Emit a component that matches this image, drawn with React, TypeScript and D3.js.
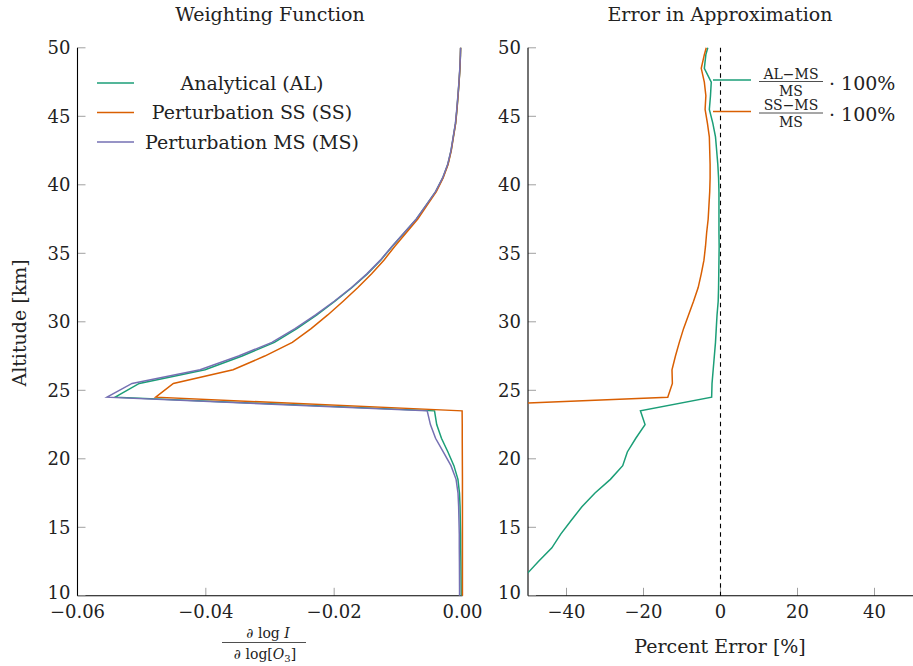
import React from "react";
import * as d3 from "d3";

// altitude grid [km]
const ALTITUDE = [
  50, 49.5, 48.5, 47.5, 46.5, 45.5, 44.5, 43.5, 42.5, 41.5, 40.5, 39.5, 38.5, 37.5,
  36.5, 35.5, 34.5, 33.5, 32.5, 31.5, 30.5, 29.5, 28.5, 27.5, 26.5, 25.5, 24.5, 23.5,
  22.5, 21.5, 20.5, 19.5, 18.5, 17.5, 16.5, 15.5, 14.5, 13.5, 12.5, 11.5, 10.5, 10,
];

// weighting functions d log I / d log[O3]
const WF_AL = [
  -0.00029, -0.00032, -0.0004, -0.00054, -0.0007, -0.00087, -0.00108, -0.00143, -0.00178,
  -0.00228, -0.00308, -0.00418, -0.00568, -0.00717, -0.00906, -0.01096, -0.01275, -0.01483,
  -0.01721, -0.01988, -0.02269, -0.02581, -0.02931, -0.03434, -0.04012, -0.05037, -0.05413,
  -0.00436, -0.00402, -0.00328, -0.00227, -0.00134, -0.00071, -0.00047, -0.00038, -0.00034,
  -0.00029, -0.00028, -0.00025, -0.00023, -0.00021, -0.0002,
];
const WF_SS = [
  -0.00029, -0.00032, -0.0004, -0.00053, -0.00069, -0.00086, -0.00106, -0.00141, -0.00175,
  -0.00224, -0.00302, -0.00408, -0.00553, -0.00697, -0.00877, -0.01057, -0.01225, -0.01416,
  -0.0163, -0.0186, -0.021, -0.02359, -0.02652, -0.03082, -0.03575, -0.04506, -0.04781,
  -0.00006, -0.00004, -0.00004, -0.00003, -0.00002, -0.00001, -0.00001, -0.00001, -0.00001,
  -0.00001, -0.00001, -0.00001, -0.00001, -0.00001, -0.00001,
];
const WF_MS = [
  -0.0003, -0.00033, -0.00042, -0.00055, -0.00072, -0.0009, -0.0011, -0.00145, -0.0018,
  -0.0023, -0.0031, -0.0042, -0.0057, -0.0072, -0.0091, -0.011, -0.0128, -0.0149,
  -0.0173, -0.02, -0.0229, -0.0261, -0.0297, -0.0349, -0.0409, -0.0515, -0.0554,
  -0.0055, -0.005, -0.0042, -0.003, -0.0018, -0.001, -0.0007, -0.0006, -0.00055,
  -0.0005, -0.0005, -0.00048, -0.00047, -0.00046, -0.00046,
];

// percent error relative to MS
const ERR_AL_MS = [
  -3.3, -3.8, -4.2, -2.4, -2.6, -2.9, -2.0, -1.3, -1.0, -0.7, -0.5, -0.4, -0.4, -0.4,
  -0.4, -0.35, -0.4, -0.45, -0.5, -0.6, -0.9, -1.1, -1.3, -1.6, -1.9, -2.2, -2.3, -20.8,
  -19.6, -22.0, -24.2, -25.4, -28.6, -32.6, -36.0, -38.8, -41.5, -43.8, -47.3, -50.6, -54.0, -55.6,
];
const ERR_SS_MS = [
  -3.7, -4.2, -5.0, -4.2, -3.8, -4.0, -3.4, -2.9, -2.8, -2.7, -2.7, -2.8, -3.0, -3.2,
  -3.6, -3.9, -4.3, -5.0, -5.8, -7.0, -8.3, -9.6, -10.7, -11.7, -12.6, -12.5, -13.7, -99.0,
  -99.2, -99.1, -99.3, -99.4, -99.0, -98.6, -98.3, -98.2, -98.0, -98.0, -97.9, -97.9, -97.8, -97.8,
];

const Y_TICKS = [10, 15, 20, 25, 30, 35, 40, 45, 50];
const X_TICKS_WF = [-0.06, -0.04, -0.02, 0.0];
const X_TICKS_ERR = [-40, -20, 0, 20, 40];

const GREEN = "#1b9e77";
const ORANGE = "#d95f02";
const PURPLE = "#7570b3";
const FONT = "'DejaVu Serif', serif";
const TICK_GRAY = "#a0a0a0";
const FS = 19; // titles, legend, axis labels
const FT = 18; // tick labels

const W = 913;
const H = 666;

export default function App() {
  const top = 47.8;
  const bottom = 595.8;
  const y = d3.scaleLinear().domain([10, 50]).range([bottom, top]);
  const xWF = d3.scaleLinear().domain([-0.06, 0]).range([77.5, 462.5]);
  const xErr = d3.scaleLinear().domain([-50, 50]).range([528, 913]);

  const idx = d3.range(ALTITUDE.length);
  const lineWF = (vals: number[]) =>
    d3.line<number>().x((i) => xWF(vals[i])).y((i) => y(ALTITUDE[i]))(idx) || "";
  const lineErr = (vals: number[]) =>
    d3.line<number>().x((i) => xErr(vals[i])).y((i) => y(ALTITUDE[i]))(idx) || "";

  const fmtWF = (v: number) => (v < 0 ? "\u2212" : "") + Math.abs(v).toFixed(2);
  const fmtErr = (v: number) => (v < 0 ? "\u2212" : "") + Math.abs(v);

  const legend = [
    { label: "Analytical (AL)", color: GREEN },
    { label: "Perturbation SS (SS)", color: ORANGE },
    { label: "Perturbation MS (MS)", color: PURPLE },
  ];

  const yAxis = (x0: number) => (
    <g>
      {Y_TICKS.map((t) => (
        <g key={t}>
          <line x1={x0} x2={x0 + 8} y1={y(t)} y2={y(t)} stroke={TICK_GRAY} strokeWidth={1} />
          <text x={x0 - 7} y={y(t) + (t === 10 ? 3 : 6.5)} textAnchor="end" fontSize={FT}>
            {t}
          </text>
        </g>
      ))}
      <line x1={x0} x2={x0} y1={top} y2={bottom} stroke="#000" strokeWidth={1.1} />
    </g>
  );

  return (
    <svg
      width={W}
      height={H}
      style={{ position: "absolute", left: 0, top: 0, background: "#fff" }}
      fontFamily={FONT}
      fill="#222"
    >
      <defs>
        <clipPath id="clipErr">
          <rect x={xErr(-50)} y={top - 2} width={xErr(50) - xErr(-50)} height={bottom - top + 4} />
        </clipPath>
      </defs>

      {/* ---- left: weighting function ---- */}
      <text x={270} y={21} textAnchor="middle" fontSize={FS}>
        Weighting Function
      </text>
      {X_TICKS_WF.map((t) => (
        <g key={t}>
          <line x1={xWF(t)} x2={xWF(t)} y1={bottom} y2={bottom - 8} stroke={TICK_GRAY} />
          <text x={xWF(t)} y={bottom + 22} textAnchor="middle" fontSize={FT}>
            {fmtWF(t)}
          </text>
        </g>
      ))}
      <line x1={xWF(-0.06)} x2={xWF(0)} y1={bottom} y2={bottom} stroke="#000" strokeWidth={1.1} />
      {yAxis(xWF(-0.06))}

      <path d={lineWF(WF_AL)} fill="none" stroke={GREEN} strokeWidth={1.5} />
      <path d={lineWF(WF_SS)} fill="none" stroke={ORANGE} strokeWidth={1.5} />
      <path d={lineWF(WF_MS)} fill="none" stroke={PURPLE} strokeWidth={1.5} />

      {legend.map((d, i) => (
        <g key={d.label} transform={`translate(0,${83 + i * 29.5})`}>
          <line x1={97} x2={134} y1={0} y2={0} stroke={d.color} strokeWidth={1.5} />
          <text x={252} y={6.5} textAnchor="middle" fontSize={FS}>
            {d.label}
          </text>
        </g>
      ))}

      {/* y label */}
      <text transform="translate(26,323) rotate(-90)" textAnchor="middle" fontSize={FS}>
        Altitude [km]
      </text>

      {/* x label: fraction */}
      <g fontSize={14}>
        <text x={268} y={638} textAnchor="middle">
          {"\u2202 log "}
          <tspan fontStyle="italic">I</tspan>
        </text>
        <line x1={222} x2={306} y1={642.5} y2={642.5} stroke="#222" strokeWidth={0.8} />
        <text x={265} y={659} textAnchor="middle">
          {"\u2202 log["}
          <tspan fontStyle="italic">O</tspan>
          <tspan fontSize={10} dy={3}>3</tspan>
          <tspan dy={-3}>]</tspan>
        </text>
      </g>

      {/* ---- right: error ---- */}
      <text x={720} y={21} textAnchor="middle" fontSize={FS}>
        Error in Approximation
      </text>
      {X_TICKS_ERR.map((t) => (
        <g key={t}>
          <line x1={xErr(t)} x2={xErr(t)} y1={bottom} y2={bottom - 8} stroke={TICK_GRAY} />
          <text x={xErr(t)} y={bottom + 22} textAnchor="middle" fontSize={FT}>
            {fmtErr(t)}
          </text>
        </g>
      ))}
      <line x1={xErr(-50)} x2={xErr(50)} y1={bottom} y2={bottom} stroke="#000" strokeWidth={1.1} />
      {yAxis(xErr(-50))}

      <line
        x1={xErr(0)}
        x2={xErr(0)}
        y1={top}
        y2={bottom}
        stroke="#000"
        strokeWidth={1.1}
        strokeDasharray="4.5,4"
      />
      <g clipPath="url(#clipErr)">
        <path d={lineErr(ERR_AL_MS)} fill="none" stroke={GREEN} strokeWidth={1.5} />
        <path d={lineErr(ERR_SS_MS)} fill="none" stroke={ORANGE} strokeWidth={1.5} />
      </g>

      {[
        { num: "AL\u2212MS", color: GREEN, cy: 81.5 },
        { num: "SS\u2212MS", color: ORANGE, cy: 113 },
      ].map((d) => (
        <g key={d.num}>
          <line x1={713} x2={751} y1={d.cy - 1.5} y2={d.cy - 1.5} stroke={d.color} strokeWidth={1.5} />
          <text x={791} y={d.cy - 3} textAnchor="middle" fontSize={14}>
            {d.num}
          </text>
          <line x1={759} x2={823} y1={d.cy} y2={d.cy} stroke="#222" strokeWidth={0.8} />
          <text x={791} y={d.cy + 14} textAnchor="middle" fontSize={14}>
            MS
          </text>
          <text x={829} y={d.cy + 8} fontSize={19}>
            {"\u00b7 100%"}
          </text>
        </g>
      ))}

      <text x={720} y={653} textAnchor="middle" fontSize={FS}>
        Percent Error [%]
      </text>
    </svg>
  );
}
